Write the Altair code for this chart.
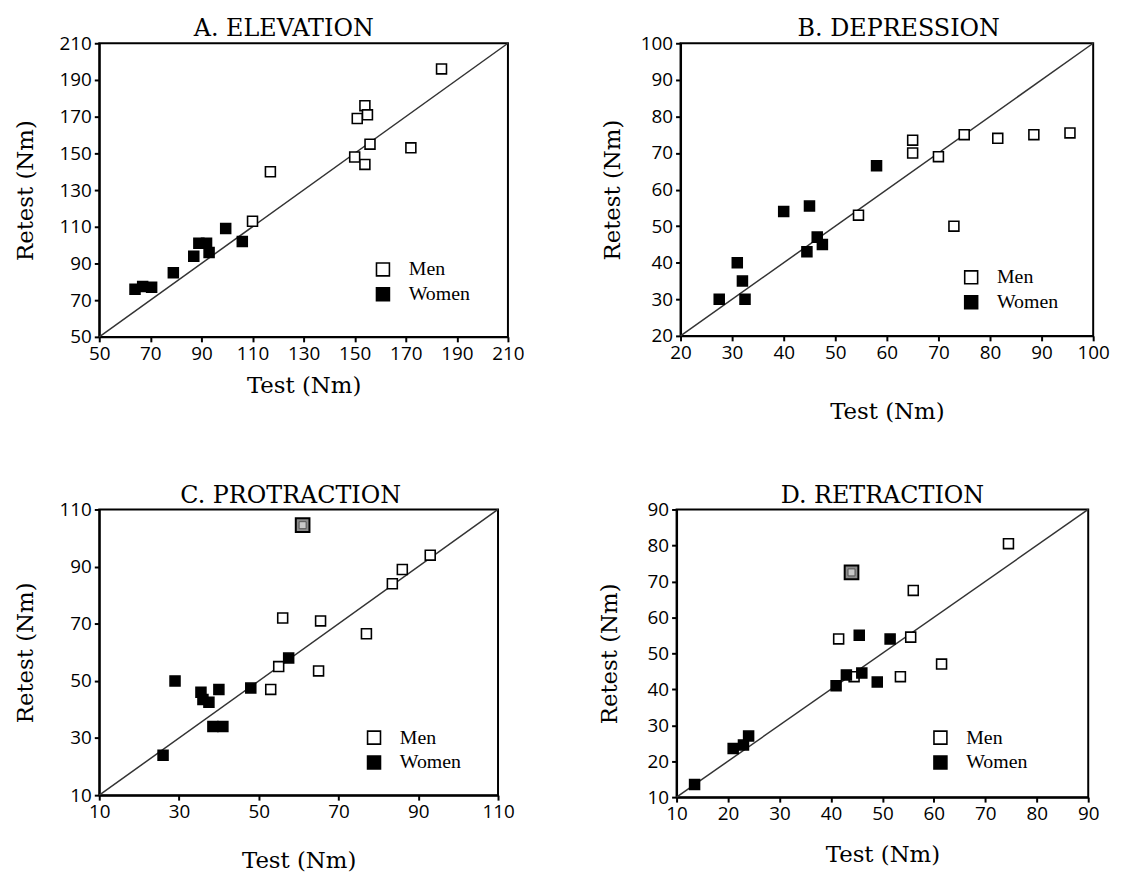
import altair as alt
import pandas as pd

# ---------------- data ----------------
# A. ELEVATION
a_men_test = [184, 154, 155, 151, 156, 172, 150, 154, 117, 110]
a_men_retest = [196, 176, 171, 169, 155, 153, 148, 144, 140, 113]
a_women_test = [99.5, 106, 89, 92, 93, 87, 79, 64, 67, 70.5]
a_women_retest = [109, 102, 101, 101, 96, 94, 85, 76, 77.5, 77]

# B. DEPRESSION
b_men_test = [65, 65, 70, 75, 81.5, 88.5, 95.5, 54.5, 73]
b_men_retest = [73.5, 70, 69, 75, 74, 75, 75.5, 53, 50]
b_women_test = [58, 40, 45, 44.5, 46.5, 47.5, 31, 32, 32.5, 27.5]
b_women_retest = [66.5, 54, 55.5, 43, 47, 45, 40, 35, 30, 30]

# C. PROTRACTION
c_men_test = [93, 86, 83.5, 56, 65.5, 77, 55, 65, 53]
c_men_retest = [94, 89, 84, 72, 71, 66.5, 55, 53.5, 47]
c_women_test = [57.5, 48, 29, 40, 35.5, 36, 37.5, 38.5, 41, 26]
c_women_retest = [58, 47.5, 50, 47, 46, 43.5, 42.5, 34, 34, 24]
c_flag_test = [61]
c_flag_retest = [104.5]

# D. RETRACTION
d_men_test = [74.5, 56, 41.5, 55.5, 61.5, 53.5, 44.5]
d_men_retest = [80.5, 67.5, 54, 54.5, 47, 43.5, 43.5]
d_women_test = [45.5, 51.5, 43, 46, 49, 41, 24, 23, 21, 13.5]
d_women_retest = [55, 54, 44, 44.5, 42, 41, 27, 24.5, 23.5, 13.5]
d_flag_test = [44]
d_flag_retest = [72.5]

groups = ["Men", "Women"]

panels = [
    dict(title="A. ELEVATION", lo=50, hi=210, step=20,
         men=(a_men_test, a_men_retest), women=(a_women_test, a_women_retest),
         flag=None, w=412, h=296, lx=276, ly=218, toff=-7, tdx=-20, ytp=22, xtp=11),
    dict(title="B. DEPRESSION", lo=20, hi=100, step=10,
         men=(b_men_test, b_men_retest), women=(b_women_test, b_women_retest),
         flag=None, w=416, h=295, lx=283, ly=226, toff=-7, tdx=12, ytp=16, xtp=38),
    dict(title="C. PROTRACTION", lo=10, hi=110, step=20,
         men=(c_men_test, c_men_retest), women=(c_women_test, c_women_retest),
         flag=(c_flag_test, c_flag_retest), w=402, h=288, lx=267, ly=220, toff=-7, tdx=-8, ytp=22, xtp=28),
    dict(title="D. RETRACTION", lo=10, hi=90, step=10,
         men=(d_men_test, d_men_retest), women=(d_women_test, d_women_retest),
         flag=(d_flag_test, d_flag_retest), w=415, h=290, lx=256, ly=220, toff=-7, tdx=0, ytp=26, xtp=20),
]

SERIF = "Liberation Serif"
TSERIF = "DejaVu Serif"
SANS = "Open Sans"


def panel(p):
    rows = []
    for g, (xs, ys) in zip(groups, [p["men"], p["women"]]):
        for x, y in zip(xs, ys):
            rows.append({"test": x, "retest": y, "group": g})
    df = pd.DataFrame(rows)
    ticks = list(range(p["lo"], p["hi"] + 1, p["step"]))
    xsc = alt.Scale(domain=[p["lo"], p["hi"]], nice=False, zero=False)
    ysc = alt.Scale(domain=[p["lo"], p["hi"]], nice=False, zero=False)
    xax = alt.Axis(values=ticks, title="Test (Nm)", labelFlush=False, labelOverlap=False,
                   titlePadding=p["xtp"])
    yax = alt.Axis(values=ticks, title="Retest (Nm)", labelOverlap=False, titlePadding=p["ytp"])

    line_df = pd.DataFrame({"test": [p["lo"], p["hi"]], "retest": [p["lo"], p["hi"]]})
    line = alt.Chart(line_df).mark_line(color="#333333", strokeWidth=1.5).encode(
        x=alt.X("test:Q", scale=xsc, axis=xax),
        y=alt.Y("retest:Q", scale=ysc, axis=yax),
    )
    pts = alt.Chart(df).mark_square(size=100, stroke="black", strokeWidth=1.6, opacity=1).encode(
        x=alt.X("test:Q", scale=xsc, axis=xax),
        y=alt.Y("retest:Q", scale=ysc, axis=yax),
        fill=alt.Fill("group:N", scale=alt.Scale(domain=groups, range=["white", "black"]),
                      legend=alt.Legend(title=None, orient="none", legendX=p["lx"], legendY=p["ly"],
                                        symbolType="square", symbolSize=170,
                                        symbolStrokeColor="black", symbolStrokeWidth=1.6,
                                        labelFont=SERIF, labelFontSize=20, labelColor="black",
                                        rowPadding=5, labelOffset=16)),
    )
    layers = [line, pts]
    if p["flag"] is not None:
        fdf = pd.DataFrame({"test": p["flag"][0], "retest": p["flag"][1]})
        outer = alt.Chart(fdf).mark_square(size=190, fill="#8c8c8c", stroke="black",
                                           strokeWidth=2, opacity=1).encode(
            x=alt.X("test:Q", scale=xsc, axis=xax), y=alt.Y("retest:Q", scale=ysc, axis=yax))
        inner = alt.Chart(fdf).mark_square(size=50, fill="#c8c8c8", stroke="#555555",
                                           strokeWidth=1, opacity=1).encode(
            x=alt.X("test:Q", scale=xsc, axis=xax), y=alt.Y("retest:Q", scale=ysc, axis=yax))
        layers += [outer, inner]
    return alt.layer(*layers).properties(
        width=p["w"], height=p["h"],
        title=alt.TitleParams(p["title"], font=TSERIF, fontSize=24, fontWeight="normal",
                              anchor="middle", offset=p["toff"], dx=p["tdx"], color="black"),
    )


charts = [panel(p) for p in panels]
row1 = alt.hconcat(charts[0], charts[1], spacing=75).resolve_scale(fill="independent").resolve_legend(fill="independent")
row2 = alt.hconcat(charts[2], charts[3], spacing=82).resolve_scale(fill="independent").resolve_legend(fill="independent")
chart = alt.vconcat(row1, row2, spacing=59).resolve_scale(fill="independent").resolve_legend(fill="independent")

chart = chart.configure_view(stroke="black", strokeWidth=2).configure_axis(
    grid=False, domainColor="black", domainWidth=2, tickColor="black", tickWidth=2, tickSize=5,
    labelFont=SANS, labelFontSize=19, labelColor="black", labelPadding=3,
    titleFont=TSERIF, titleFontSize=23, titleFontWeight="normal", titleColor="black",
).properties(background="white")

chart.save("out.html", embed_options={"renderer": "svg", "actions": False})
